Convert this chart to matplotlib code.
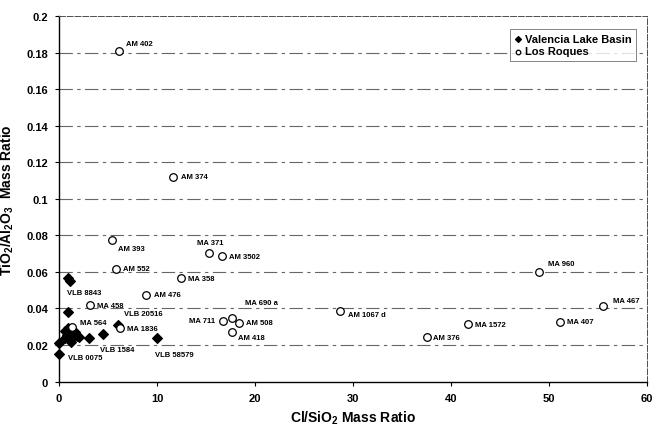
import matplotlib
matplotlib.use("Agg")
import matplotlib.pyplot as plt

plt.rcParams['font.family'] = ['Liberation Sans', 'DejaVu Sans']
plt.rcParams['font.weight'] = 'bold'
plt.rcParams['axes.labelweight'] = 'bold'
plt.rcParams['mathtext.fontset'] = 'custom'
plt.rcParams['mathtext.rm'] = 'Liberation Sans:bold'
plt.rcParams['mathtext.it'] = 'Liberation Sans:bold'
plt.rcParams['mathtext.bf'] = 'Liberation Sans:bold'

# Los Roques samples (open circles)
lr_names = ['AM 402', 'AM 374', 'AM 393', 'MA 371', 'AM 3502', 'AM 552', 'MA 358',
            'AM 476', 'MA 458', 'MA 564', 'MA 1836', 'MA 711', 'MA 690 a', 'AM 508',
            'AM 418', 'AM 1067 d', 'AM 376', 'MA 1572', 'MA 960', 'MA 407', 'MA 467']
lr_x = [6.1, 11.64, 5.45, 15.26, 16.62, 5.82, 12.4,
        8.83, 3.18, 1.35, 6.26, 16.75, 17.6, 18.38,
        17.6, 28.7, 37.5, 41.7, 49.0, 51.1, 55.5]
lr_y = [0.181, 0.1122, 0.0774, 0.0701, 0.0686, 0.0618, 0.0566,
        0.0474, 0.0419, 0.0296, 0.0292, 0.0332, 0.0346, 0.0321,
        0.0270, 0.0388, 0.0242, 0.0315, 0.0601, 0.0328, 0.0415]

# Valencia Lake Basin samples (filled diamonds)
vlb_names = ['VLB 8843', '', '', 'VLB 20516', 'VLB 1584', '', 'VLB 58579', '', 'VLB 0075',
             '', '', '', '', '', '', '', '', '', '', '']
vlb_x = [0.95, 1.15, 0.88, 6.0, 4.5, 3.1, 10.0, 0.03, 0.03,
         0.61, 0.78, 1.05, 1.12, 1.39, 1.62, 1.86, 2.06, 0.61, 1.22, 0.88]
vlb_y = [0.0565, 0.0548, 0.0379, 0.0312, 0.0259, 0.0238, 0.0237, 0.0211, 0.0151,
         0.0278, 0.0255, 0.0273, 0.0229, 0.0251, 0.0273, 0.0251, 0.0242, 0.0237, 0.0218, 0.0292]

# label offsets in pixels (dx, dy, ha)
lr_off = {'AM 402': (7, 7, 'left'), 'AM 374': (8, 0, 'left'), 'AM 393': (6, -8, 'left'),
          'MA 371': (-12, 11, 'left'), 'AM 3502': (7, 0, 'left'), 'AM 552': (7, 0, 'left'),
          'MA 358': (7, 0, 'left'), 'AM 476': (8, 0, 'left'), 'MA 458': (7, 0, 'left'),
          'MA 564': (8, 5, 'left'), 'MA 1836': (7, 0, 'left'), 'MA 711': (-8, 0, 'right'),
          'MA 690 a': (13, 16, 'left'), 'AM 508': (7, 0, 'left'), 'AM 418': (6, -5, 'left'),
          'AM 1067 d': (8, -4, 'left'), 'AM 376': (6, 0, 'left'), 'MA 1572': (7, 0, 'left'),
          'MA 960': (9, 8, 'left'), 'MA 407': (7, 0, 'left'), 'MA 467': (10, 5, 'left')}
vlb_off = {'VLB 8843': (-1, -14), 'VLB 20516': (6, 11), 'VLB 1584': (-3, -15),
           'VLB 58579': (-2, -16), 'VLB 0075': (9, -4)}

fig = plt.figure(figsize=(6.53, 4.27), dpi=100)
ax = fig.add_axes([0.0904, 0.104, 0.9005, 0.856])

for yv in [0.02, 0.04, 0.06, 0.08, 0.1, 0.12, 0.14, 0.16, 0.18]:
    ax.axhline(yv, color='0.4', lw=0.8, ls=(0, (12, 4, 3, 4)), zorder=1)

ax.scatter(vlb_x, vlb_y, marker='D', s=24, color='black', zorder=3,
           clip_on=False, label='Valencia Lake Basin')
ax.scatter(lr_x, lr_y, marker='o', s=30, facecolor='white', edgecolor='black',
           linewidth=0.9, zorder=4, clip_on=False, label='Los Roques')

for n, x, y in zip(lr_names, lr_x, lr_y):
    dx, dy, ha = lr_off[n]
    ax.annotate(n, (x, y), xytext=(dx, dy), textcoords='offset pixels',
                fontsize=5.5, fontweight='bold', ha=ha, va='center', zorder=5)
for n, x, y in zip(vlb_names, vlb_x, vlb_y):
    if n:
        dx, dy = vlb_off[n]
        ax.annotate(n, (x, y), xytext=(dx, dy), textcoords='offset pixels',
                    fontsize=5.5, fontweight='bold', ha='left', va='center', zorder=5)

ax.set_xlim(0, 60)
ax.set_ylim(0, 0.2)
ax.set_xticks([0, 10, 20, 30, 40, 50, 60])
ax.set_xticklabels(['0', '10', '20', '30', '40', '50', '60'], fontweight='bold')
ax.set_yticks([0, 0.02, 0.04, 0.06, 0.08, 0.1, 0.12, 0.14, 0.16, 0.18, 0.2])
ax.set_yticklabels(['0', '0.02', '0.04', '0.06', '0.08', '0.1', '0.12', '0.14',
                    '0.16', '0.18', '0.2'], fontweight='bold')
ax.tick_params(labelsize=8, length=3, width=0.8, pad=5)

for s in ['top', 'right']:
    ax.spines[s].set_linestyle((0, (6, 2)))
    ax.spines[s].set_color('0.3')
    ax.spines[s].set_linewidth(0.7)
for s in ['left', 'bottom']:
    ax.spines[s].set_linewidth(1.0)

ax.set_xlabel('Cl/SiO$_2$ Mass Ratio', fontsize=10, fontweight='bold', labelpad=4)
ax.set_ylabel('TiO$_2$/Al$_2$O$_3$  Mass Ratio', fontsize=10, fontweight='bold', labelpad=7)

leg = ax.legend(loc='upper right', bbox_to_anchor=(0.981, 0.964),
                prop={'size': 8, 'weight': 'bold'},
                frameon=True, fancybox=False, handlelength=0.6, handletextpad=0.3,
                borderpad=0.4, labelspacing=0.25, borderaxespad=0, markerscale=0.6)
leg.get_frame().set_edgecolor('0.3')
leg.get_frame().set_linewidth(0.6)

fig.savefig('out.png', dpi=100)
